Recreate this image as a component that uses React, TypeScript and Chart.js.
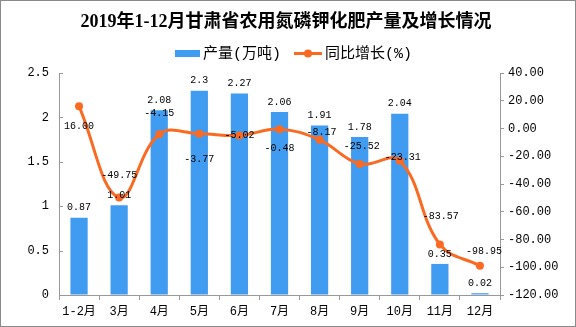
import React, { useEffect, useRef } from "react";
import { Chart, registerables } from "chart.js";
Chart.register(...registerables);

const TITLE = "2019年1-12月甘肃省农用氮磷钾化肥产量及增长情况";
const CATEGORIES = ["1-2月", "3月", "4月", "5月", "6月", "7月", "8月", "9月", "10月", "11月", "12月"];
const OUTPUT = [0.87, 1.01, 2.08, 2.3, 2.27, 2.06, 1.91, 1.78, 2.04, 0.35, 0.02];
const GROWTH = [16.0, -49.75, -4.15, -3.77, -5.02, -0.48, -8.17, -25.52, -23.31, -83.57, -98.95];
const OUTPUT_LABEL = "产量(万吨)";
const GROWTH_LABEL = "同比增长(%)";
const GROWTH_LABEL_DY = [20, -22, -21, 26, 0, 19, -7, -18, -3, -28, -14];
const GROWTH_LABEL_DX = [0, 0, 0, 0, 0, 0, 2, 2, 3, 1, 4];

const BAR_COLOR = "#409CF0";
const LINE_COLOR = "#FA6A22";
const AXIS_COLOR = "#999999";
const TICK_FONT = { family: "'Liberation Mono', 'Noto Sans CJK SC'", size: 12 };

const decor = {
  id: "decor",
  afterDatasetsDraw(chart: any) {
    const ctx = chart.ctx;
    ctx.save();
    ctx.fillStyle = "#000";
    ctx.font = "10px 'Liberation Mono', 'Noto Sans CJK SC'";
    ctx.textAlign = "center";
    ctx.textBaseline = "middle";
    chart.getDatasetMeta(1).data.forEach((el: any, i: number) => {
      ctx.fillText(String(OUTPUT[i]), el.x, el.y - 10);
    });
    chart.getDatasetMeta(0).data.forEach((el: any, i: number) => {
      ctx.fillText(GROWTH[i].toFixed(2), el.x + GROWTH_LABEL_DX[i], el.y + GROWTH_LABEL_DY[i]);
    });
    ctx.restore();
  },
  afterDraw(chart: any) {
    const ctx = chart.ctx;
    ctx.save();
    ctx.strokeStyle = "#8a8a8a";
    ctx.lineWidth = 1;
    ctx.strokeRect(0.5, 0.5, chart.width - 1, chart.height - 1);
    ctx.fillStyle = "#000";
    ctx.font = "bold 18px 'Liberation Serif', 'Noto Sans CJK SC'";
    ctx.textAlign = "center";
    ctx.textBaseline = "middle";
    ctx.fillText(TITLE, 286, 22);
    ctx.font = "15px 'Liberation Mono', 'Noto Sans CJK SC'";
    ctx.textAlign = "left";
    ctx.fillStyle = BAR_COLOR;
    ctx.fillRect(175, 50, 25, 7);
    ctx.fillStyle = "#000";
    ctx.fillText(OUTPUT_LABEL, 203, 54);
    ctx.strokeStyle = LINE_COLOR;
    ctx.lineWidth = 3;
    ctx.beginPath();
    ctx.moveTo(294, 53.5);
    ctx.lineTo(322, 53.5);
    ctx.stroke();
    ctx.fillStyle = LINE_COLOR;
    ctx.beginPath();
    ctx.arc(308, 53.5, 4, 0, Math.PI * 2);
    ctx.fill();
    ctx.fillStyle = "#000";
    ctx.fillText(GROWTH_LABEL, 325, 54);
    const y = chart.scales.y;
    ctx.strokeStyle = AXIS_COLOR;
    ctx.lineWidth = 1;
    ctx.beginPath();
    y.ticks.forEach((_t: any, i: number) => {
      const py = Math.round(y.getPixelForTick(i)) + 0.5;
      ctx.moveTo(y.right, py);
      ctx.lineTo(y.right + 4, py);
    });
    ctx.stroke();
    ctx.restore();
  },
};

export default function App() {
  const ref = useRef<HTMLCanvasElement>(null);
  useEffect(() => {
    document.body.style.margin = "0";
    const chart = new Chart(ref.current as HTMLCanvasElement, {
      type: "bar",
      data: {
        labels: CATEGORIES,
        datasets: [
          {
            type: "line",
            label: GROWTH_LABEL,
            data: GROWTH,
            yAxisID: "y1",
            borderColor: LINE_COLOR,
            backgroundColor: LINE_COLOR,
            borderWidth: 3,
            pointRadius: 4,
            pointBorderWidth: 0,
            tension: 0.4,
            order: 0,
          } as any,
          {
            type: "bar",
            label: OUTPUT_LABEL,
            data: OUTPUT,
            yAxisID: "y",
            backgroundColor: BAR_COLOR,
            barPercentage: 0.43,
            categoryPercentage: 1,
            order: 1,
          },
        ],
      },
      options: {
        animation: false,
        responsive: false,
        devicePixelRatio: 1,
        layout: { padding: { top: 73, left: 0, right: 0, bottom: 0 } },
        plugins: { legend: { display: false }, title: { display: false }, tooltip: { enabled: false } },
        scales: {
          x: {
            grid: { offset: true, drawOnChartArea: false, drawTicks: true, tickLength: 5, color: AXIS_COLOR },
            border: { display: true, color: AXIS_COLOR },
            ticks: { color: "#000", font: TICK_FONT, padding: 5, maxRotation: 0, autoSkip: false },
            afterFit: (s: any) => { s.height = 32; },
          },
          y: {
            position: "left",
            min: 0,
            max: 2.5,
            ticks: { stepSize: 0.5, color: "#000", font: TICK_FONT, padding: 10, callback: (v: any) => String(Number(v)) },
            grid: { drawOnChartArea: false, drawTicks: false },
            border: { display: true, color: AXIS_COLOR },
            afterFit: (s: any) => { s.width = 59; },
          },
          y1: {
            position: "right",
            min: -120,
            max: 40,
            ticks: { stepSize: 20, color: "#000", font: TICK_FONT, padding: 4, callback: (v: any) => Number(v).toFixed(2) },
            grid: { drawOnChartArea: false, drawTicks: true, tickLength: 4, color: AXIS_COLOR },
            border: { display: true, color: AXIS_COLOR },
            afterFit: (s: any) => { s.width = 76; },
          },
        },
      },
      plugins: [decor],
    });
    return () => chart.destroy();
  }, []);
  return (
    <div style={{ width: 576, height: 327, background: "#fff" }}>
      <canvas ref={ref} width={576} height={327} />
    </div>
  );
}
